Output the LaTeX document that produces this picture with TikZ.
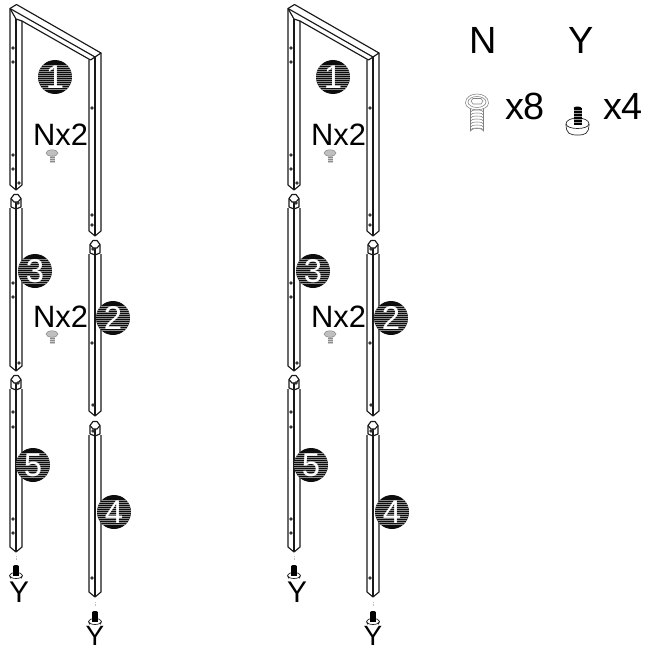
\documentclass[tikz,border=0pt]{standalone}
\usepackage{fontspec}
\setmainfont{Liberation Sans}
\tikzset{
  every node/.style={inner sep=0pt,outer sep=0pt},
  barline/.style={draw=black!90,line width=1.15pt,line join=round},
  hole/.style={fill=black!80,draw=none},
  lbl/.style={font=\fontsize{31}{31}\selectfont,text=black},
  biglbl/.style={font=\fontsize{38}{38}\selectfont,text=black},
  ylbl/.style={font=\fontsize{30}{30}\selectfont,text=black},
  ylblb/.style={font=\fontsize{28}{28}\selectfont,text=black},
  screwline/.style={draw=black!50,line width=0.55pt},
  footline/.style={draw=black!85,line width=0.7pt},
}
% post with cap: #1 left x, #2 top y, #3 bottom y
\newcommand{\postbar}[3]{%
  \draw[barline] (#1+1,#2+4.5) -- (#1+4,#2+0.5) -- (#1+8,#2+0.5) -- (#1+11,#2+4.5) -- (#1+11,#2+13) -- (#1+6,#2+15) -- (#1+1,#2+13) -- cycle;
  \draw[barline] (#1+1,#2+4.5) -- (#1+4,#2+8) -- (#1+8,#2+8) -- (#1+11,#2+4.5);
  \draw[barline] (#1+6,#2+8) -- (#1+6,#2+15);
  \draw[barline] (#1,#2+14) -- (#1,#3-5) -- (#1+6,#3) -- (#1+12,#3-5) -- (#1+12,#2+14);
  \draw[barline] (#1+6,#2+15) -- (#1+6,#3);
}
\newcommand{\holes}[1]{\foreach \hx/\hy in {#1} {\fill[hole] (\hx,\hy) circle (1.9);}}
% hatched disc: #1 name, #2 x, #3 y, #4 digit
\newcommand{\disc}[4]{%
  \fill[black!95] (#2,#3) circle (17);
  \begin{scope}
    \clip (#2,#3) circle (17);
    \foreach \dy in {-12,-10,...,12} {\draw[black!45,line width=0.4pt] (#2-17,#3+\dy) -- (#2+17,#3+\dy);}
  \end{scope}
  \node[font=\fontsize{33}{33}\selectfont,text=white] (#1) at (#2,#3) {#4};
}
\newcommand{\smallscrew}[2]{%
  \fill[black!45] (#1-2.5,#2+4) rectangle (#1+2.5,#2+13);
  \foreach \sy in {6,8,10,12} {\draw[black!20,line width=0.3pt] (#1-2.5,#2+\sy) -- (#1+2.5,#2+\sy);}
  \fill[black!25] (#1,#2+3) ellipse (6 and 3.2);
  \draw[draw=black!50,line width=0.45pt] (#1,#2+3) ellipse (6 and 3.2);
}
\newcommand{\smallfoot}[2]{%
  \fill[white] (#1-6.5,#2+10) -- (#1-6,#2+13) arc (180:360:6 and 2) -- (#1+6.5,#2+10) -- cycle;
  \draw[footline] (#1-6.5,#2+10.5) -- (#1-5.5,#2+13) arc (180:360:5.5 and 2.2) -- (#1+6.5,#2+10.5);
  \draw[footline,fill=white] (#1,#2+10.5) ellipse (6.5 and 3);
  \fill[black] (#1-2.6,#2+1) rectangle (#1+2.6,#2+11);
  \fill[black] (#1,#2+1) ellipse (2.6 and 1);
  \draw[black!25,line width=0.7pt,densely dotted] (#1,#2-9) -- (#1,#2-5);
}
\newcommand{\assembly}{%
  % frame
  \draw[barline] (10,8.5) -- (16.5,4.5) -- (101,53) -- (90.5,60) -- (22,21) -- (16,19) -- cycle;
  \draw[barline] (10,8.5) -- (95,57);
  \draw[barline] (10,8.5) -- (10,185) -- (16,190) -- (22,185) -- (22,21);
  \draw[barline] (16,19) -- (16,190);
  \draw[barline] (89,60) -- (89,231) -- (95,236) -- (101,231) -- (101,53);
  \draw[barline] (95,57) -- (95,236);
  \holes{13/48,13/62,13/155,13/169,19/183,92/108,92/215,92/225}
  % lower posts
  \postbar{10}{194}{371}
  \postbar{89}{240}{416}
  \postbar{10}{375}{552}
  \postbar{89}{421}{597}
  \holes{18/203,13/283,13/297,19/363,92/343,93/405,93/249,18/383,13/412,13/427,13/519,13/533,93/431,92/578}
  % discs
  \disc{d1}{55}{77}{1}
  \disc{d3}{35}{271}{3}
  \disc{d2}{113}{318}{2}
  \disc{d5}{33}{465}{5}
  \disc{d4}{114}{512}{4}
  % labels
  \node[lbl] (nx1) at (60.5,135) {Nx2};
  \smallscrew{52}{150}
  \node[lbl] (nx2) at (60.5,317) {Nx2};
  \smallscrew{52}{331}
  \smallfoot{16}{565}
  \node[ylbl] (y1) at (19,592) {Y};
  \smallfoot{95}{611}
  \node[ylblb] (y2) at (95,635.5) {Y};
}
\begin{document}
\begin{tikzpicture}[x=1bp,y=-1bp]
\useasboundingbox (0,0) rectangle (656,651);
\fill[white] (0,0) rectangle (656,651);
\begin{scope}
\assembly
\end{scope}
\begin{scope}[shift={(278,0)}]
\assembly
\end{scope}
% legend
\node[biglbl] (n) at (483,40) {N};
\node[biglbl] (y) at (581,40) {Y};
\node[biglbl] (x8) at (525,106) {x8};
\node[biglbl] (x4) at (623,106) {x4};
% large screw
\draw[screwline,fill=white] (470.5,108) -- (470.5,131) arc (180:360:6.5 and 2.5) -- (483.5,108);
\foreach \ty in {112,115,...,130} {\draw[screwline] (470.5,\ty) arc (180:360:6.5 and 2);}
\draw[screwline,fill=white] (465.5,103) .. controls (465.5,91) and (488.5,91) .. (488.5,103) .. controls (488.5,112) and (465.5,112) .. (465.5,103) -- cycle;
\draw[screwline] (477,102) ellipse (9 and 5.5);
\draw[screwline] (471,101) -- (473,98.5) -- (481,98.5) -- (483,101) -- (481,104) -- (473,104) -- cycle;
% large foot
\draw[footline,fill=white] (566,124) .. controls (566,134) and (570,135) .. (577.5,135) .. controls (585,135) and (589,134) .. (589,124) .. controls (589,116) and (566,116) .. (566,124) -- cycle;
\draw[footline] (566,124) .. controls (567,130) and (588,130) .. (589,124);
\fill[black] (573.5,108) rectangle (581.5,125);
\fill[black] (577.5,108) ellipse (4 and 1.5);
\foreach \ty in {110,113,116,119,122} {\draw[black!40,line width=0.3pt] (573.5,\ty) -- (581.5,\ty);}
\end{tikzpicture}
\end{document}
